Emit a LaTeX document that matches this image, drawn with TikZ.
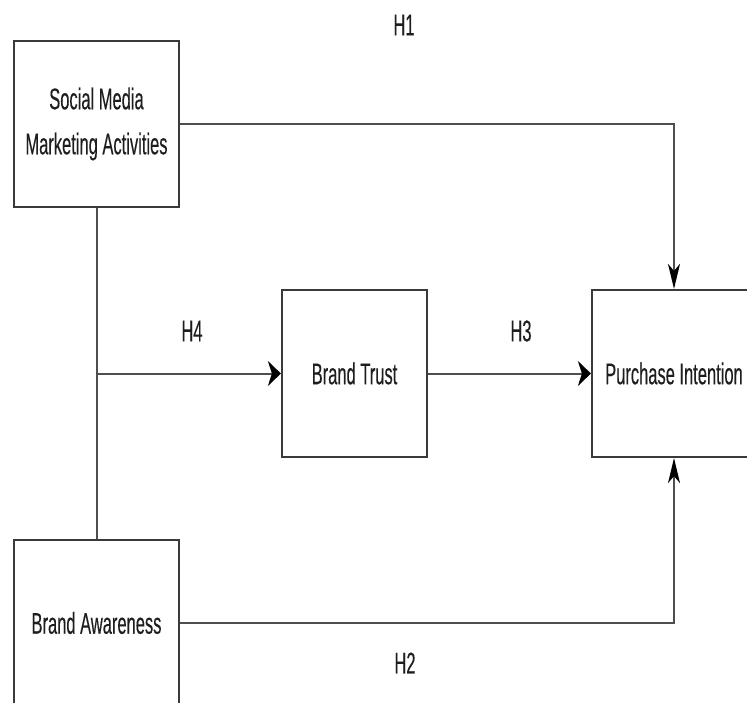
\documentclass[tikz,border=0pt]{standalone}
\usepackage{fontspec}
\newfontfamily\lab[FakeStretch=0.55,FakeBold=0.2]{Liberation Sans}
\usetikzlibrary{arrows.meta}
\definecolor{boxline}{HTML}{3A3A3A}
\definecolor{conline}{HTML}{4E4E4E}
\definecolor{txt}{HTML}{1E1E1E}
\begin{document}
\begin{tikzpicture}[x=1pt,y=-1pt,
  box/.style={draw=boxline, line width=2.2pt, fill=white, inner sep=0pt, anchor=center,
    font=\lab\fontsize{30}{45}\selectfont, text=txt, align=center},
  hlab/.style={font=\lab\fontsize{30}{36}\selectfont, text=txt, inner sep=0pt},
  con/.style={draw=conline, line width=2pt},
  harrow/.style={-{Stealth[length=13pt,width=25pt,inset=4pt,color=black]}},
  varrow/.style={-{Stealth[length=25pt,width=12pt,inset=7pt,color=black]}}]
\clip (0,0) rectangle (747,702);
\fill[white] (0,0) rectangle (747,702);
\node[box, minimum width=165pt, minimum height=166pt] (smma) at (96.5,124) {Social Media\\Marketing Activities};
\node[box, minimum width=145pt, minimum height=167pt] (bt) at (354.5,373.5) {Brand Trust};
\node[box, minimum width=164pt, minimum height=167pt] (pi) at (674,373.5) {Purchase Intention};
\node[box, minimum width=165pt, minimum height=166pt] (ba) at (96.5,623) {Brand Awareness};
\coordinate (j) at (smma.south |- bt.west);
\draw[con] (smma.south) -- (ba.north);
\draw[con, harrow] (j) -- (bt.west);
\draw[con, harrow] (bt.east) -- (pi.west);
\draw[con, varrow] (smma.east) -| (pi.north);
\draw[con, varrow] (ba.east) -| (pi.south);
\node[hlab] (h1) at (404,25) {H1};
\node[hlab] (h4) at (192,331) {H4};
\node[hlab] (h3) at (521,331) {H3};
\node[hlab] (h2) at (405,663) {H2};
\end{tikzpicture}
\end{document}
